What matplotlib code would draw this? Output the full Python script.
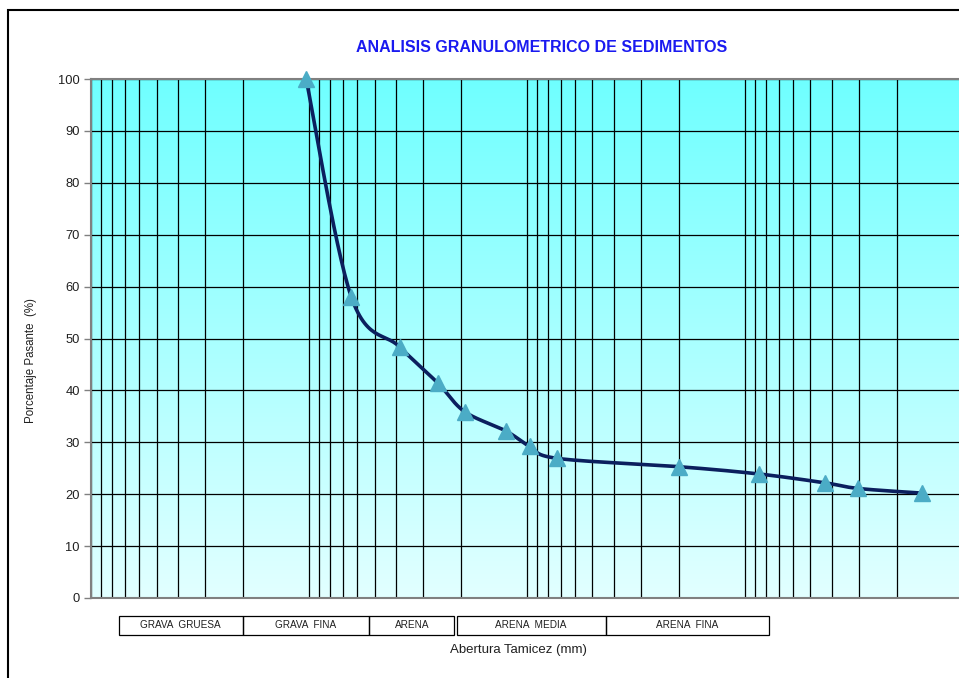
import numpy as np
import matplotlib
matplotlib.use("Agg")
import matplotlib.pyplot as plt
from matplotlib.ticker import LogLocator, NullFormatter
from matplotlib.patches import Rectangle
from matplotlib.colors import LinearSegmentedColormap

plt.rcParams['font.family'] = ['Liberation Sans', 'DejaVu Sans']

# sieve opening (mm) and percent passing
abertura = [10.3, 6.39, 3.84, 2.56, 1.93, 1.25, 0.971, 0.724, 0.201, 0.0863, 0.043, 0.0301, 0.0153]
pasante = [100, 58.0, 48.4, 41.4, 35.9, 32.2, 29.2, 26.9, 25.3, 23.9, 22.2, 21.1, 20.2]

clases = ["GRAVA  GRUESA", "GRAVA  FINA", "ARENA", "ARENA  MEDIA", "ARENA  FINA"]
y_ticks = list(range(0, 101, 10))

W, H = 959, 678


def smooth_curve(xs, ys, n=30):
    # excel-like smoothed line (catmull-rom bezier) in log-x space
    lx = np.log10(xs)
    y = np.asarray(ys, dtype=float)
    pts = np.column_stack([lx, y])
    out = []
    for i in range(len(pts) - 1):
        p0 = pts[i - 1] if i > 0 else pts[i]
        p1 = pts[i]
        p2 = pts[i + 1]
        p3 = pts[i + 2] if i + 2 < len(pts) else pts[i + 1]
        c1 = p1 + (p2 - p0) / 6
        c2 = p2 - (p3 - p1) / 6
        t = np.linspace(0, 1, n)[:, None]
        seg = ((1 - t) ** 3) * p1 + 3 * ((1 - t) ** 2) * t * c1 + 3 * (1 - t) * t ** 2 * c2 + t ** 3 * p2
        out.append(seg if i == 0 else seg[1:])
    out = np.vstack(out)
    return 10 ** out[:, 0], out[:, 1]


fig = plt.figure(figsize=(W / 100, H / 100), dpi=100)

# outer frame
fig.patches.append(Rectangle((7.5 / W, 0 - 0.05), 1.2, 1 - 10.5 / H + 0.05,
                             transform=fig.transFigure, fill=False,
                             edgecolor='black', linewidth=1.5))

left, right, top, bottom = 91 / W, 1.0, 1 - 79 / H, 1 - 598 / H
ax = fig.add_axes([left, bottom, right - left, top - bottom])

# background gradient
grad = LinearSegmentedColormap.from_list("bg", ["#E2FFFF", "#6FFFFF"])
ax.imshow(np.linspace(0, 1, 256)[:, None], aspect='auto', cmap=grad, origin='lower',
          extent=[0, 1, 0, 1], transform=ax.transAxes, zorder=0)

ax.set_xscale('log')
ax.set_xlim(100, 0.0104)
ax.set_ylim(0, 100)
ax.xaxis.set_major_locator(LogLocator(base=10))
ax.xaxis.set_minor_locator(LogLocator(base=10, subs=np.arange(2, 10)))
ax.xaxis.set_major_formatter(NullFormatter())
ax.xaxis.set_minor_formatter(NullFormatter())
ax.tick_params(axis='x', which='both', length=0)
ax.set_yticks(y_ticks)
ax.tick_params(axis='y', length=5, width=1, color='#808080', labelsize=9.3,
               labelcolor='#202020', pad=3, direction='out')

ax.grid(True, which='both', axis='x', color='black', linewidth=0.9, zorder=1)
ax.grid(True, which='major', axis='y', color='black', linewidth=0.9, zorder=1)
ax.set_axisbelow(True)

for s in ['left', 'bottom', 'top']:
    ax.spines[s].set_color('#808080')
    ax.spines[s].set_linewidth(1.5)
ax.spines['right'].set_visible(False)

sx, sy = smooth_curve(abertura, pasante)
ax.plot(sx, sy, color='#0B1F5E', linewidth=2.6, zorder=3, solid_capstyle='round')
ax.plot(abertura, pasante, linestyle='none', marker='^', markersize=11.5,
        color='#4BACC6', markeredgecolor='#4BACC6', zorder=4, clip_on=False)

fig.text(542 / W, 1 - 48 / H, "ANALISIS GRANULOMETRICO DE SEDIMENTOS",
         color='#1A1AF0', fontsize=11.5, fontweight='bold', ha='center', va='center')
fig.text(31 / W, 1 - 361 / H, "Porcentaje Pasante  (%)", rotation=90,
         fontsize=8.3, color='#202020', ha='center', va='center')
fig.text(518 / W, 1 - 650 / H, "Abertura Tamicez (mm)", fontsize=9.5,
         color='#202020', ha='center', va='center')

# soil class boxes under the axis
bordes = [118.5, 242.7, 369.3, 455.5, 605.7, 769.3]
y0, y1 = 1 - 635 / H, 1 - 616 / H
for i, nombre in enumerate(clases):
    xa = bordes[i]
    xb = bordes[i + 1]
    if i == 2:
        xb = 454.3
    if i == 3:
        xa = 456.5
    fig.patches.append(Rectangle((xa / W, y0), (xb - xa) / W, y1 - y0,
                                 transform=fig.transFigure, fill=False,
                                 edgecolor='black', linewidth=0.9))
    fig.text((xa + xb) / 2 / W, (y0 + y1) / 2, nombre, fontsize=7.2,
             color='#202020', ha='center', va='center')

fig.savefig("out.png", dpi=100)
